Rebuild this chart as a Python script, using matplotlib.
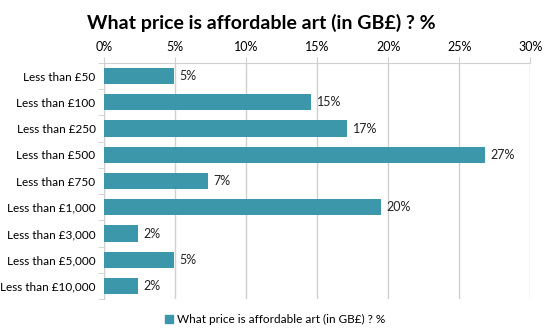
import matplotlib
matplotlib.use("Agg")
from matplotlib import pyplot as plt
from matplotlib.patches import Patch
import numpy as np

plt.rcParams["font.family"] = ["Lato", "DejaVu Sans"]

categories = ["Less than £50", "Less than £100", "Less than £250", "Less than £500",
              "Less than £750", "Less than £1,000", "Less than £3,000",
              "Less than £5,000", "Less than £10,000"]
values = [4.9, 14.6, 17.1, 26.8, 7.3, 19.5, 2.4, 4.9, 2.4]
xticks = [0, 5, 10, 15, 20, 25, 30]
series_name = "What price is affordable art (in GB£) ? %"

BAR = "#3d97aa"
GRID = "#d0d0d0"

fig = plt.figure(figsize=(5.5, 3.35), dpi=100)
ax = fig.add_axes([0.189, 0.107, 0.775, 0.705])

y = np.arange(len(categories))
ax.barh(y, values, height=0.62, color=BAR, zorder=3)
for yi, v in zip(y, values):
    ax.text(v + 0.4, yi, f"{v:.0f}%", va="center", ha="left", fontsize=9, color="#222222")

ax.set_xlim(0, 30)
ax.set_ylim(len(categories) - 0.5, -0.5)
ax.xaxis.tick_top()
ax.set_xticks(xticks)
ax.set_xticklabels([f"{t}%" for t in xticks], fontsize=9)
ax.tick_params(axis="x", length=4, color=GRID, pad=3)
ax.set_yticks(y)
ax.set_yticklabels(categories, fontsize=8.5)
ax.set_yticks(np.arange(len(categories) + 1) - 0.5, minor=True)
ax.tick_params(axis="y", which="major", length=0, pad=6)
ax.tick_params(axis="y", which="minor", length=4, color=GRID)
ax.grid(axis="x", color=GRID, linewidth=1, zorder=0)

for s in ["right", "bottom"]:
    ax.spines[s].set_visible(False)
ax.spines["top"].set_color(GRID)
ax.spines["left"].set_color(GRID)

fig.text(0.475, 0.93, "What price is affordable art (in GB£) ? %", ha="center", va="center",
         fontsize=14, fontweight="bold")

fig.legend(handles=[Patch(color=BAR)], labels=[series_name], loc="center",
           bbox_to_anchor=(0.5, 0.045), frameon=False, fontsize=8.5,
           handlelength=0.7, handleheight=0.7, handletextpad=0.3)

fig.savefig("out.png", dpi=100)
